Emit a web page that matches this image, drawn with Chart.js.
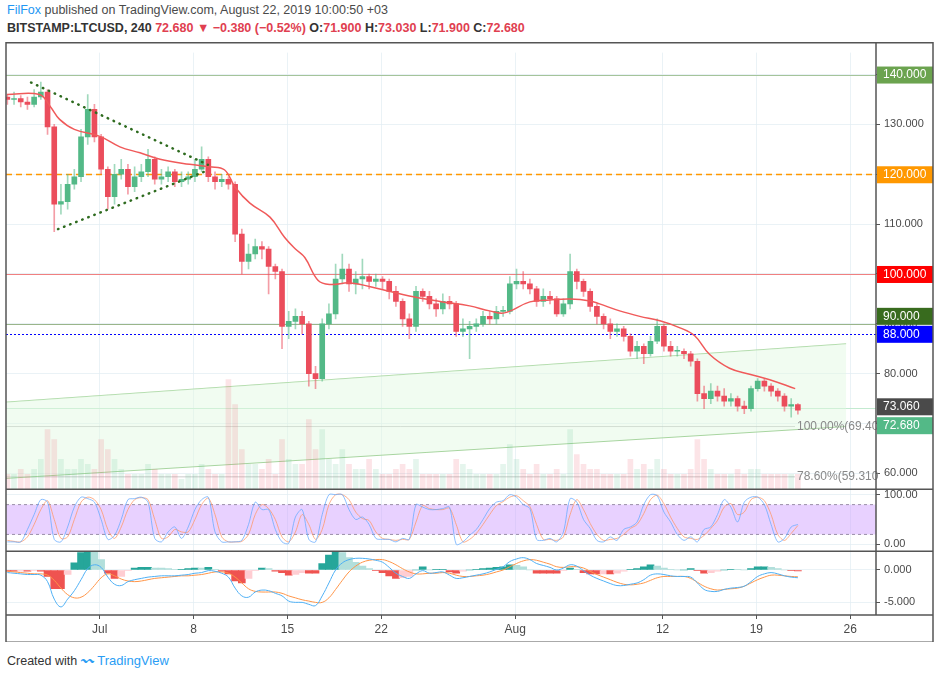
<!DOCTYPE html>
<html>
<head>
<meta charset="utf-8">
<script src="https://cdn.jsdelivr.net/npm/chart.js@4.4.1/dist/chart.umd.min.js"></script>
<style>
	body { margin: 0; background: #fff; font-family: "Liberation Sans", Arial, sans-serif; }
	#wrap { position: relative; width: 939px; height: 675px; overflow: hidden; }
	#hd1 { position: absolute; left: 7px; top: 3px; font-size: 12.5px; color: #4a4a4a; }
	#hd1 .who { color: #2196f3; }
	#hd2 { position: absolute; left: 7px; top: 21px; font-size: 12.5px; color: #333; font-weight: bold; }
	#hd2 .dn { color: #e04050; }
	#ft { position: absolute; left: 7px; top: 650px; font-size: 12.5px; color: #333; }
	#ft .tv { color: #2a9df4; font-size: 13px; }
	canvas { position: absolute; left: 0; top: 42px; }
</style>
</head>
<body>
<div id="wrap">
	<div id="hd1"><span class="who">FilFox</span> published on TradingView.com, August 22, 2019 10:00:50 +03</div>
	<div id="hd2">BITSTAMP:LTCUSD, 240 <span class="dn">72.680 ▼ −0.380 (−0.52%)</span> O:<span class="dn">71.900</span> H:<span class="dn">73.030</span> L:<span class="dn">71.900</span> C:<span class="dn">72.680</span></div>
	<canvas id="c" width="939" height="600"></canvas>
	<div id="ft">Created with <span class="tv">〰 TradingView</span></div>
</div>
<script>
// time axis: days since Jun 24, one candle = 12h
var tickDays = [7, 14, 21, 28, 38, 49, 56, 63];
var tickLabels = ['Jul', '8', '15', '22', 'Aug', '12', '19', '26'];
var priceTicks = [60, 70, 80, 90, 100, 110, 120, 130, 140];

var closes = [135,135.2,134.5,134,135.5,136.5,129.5,114,114.5,118,
	119.5,127.5,133,127.5,121,115.5,120,121,117.5,119.5,
	120.5,123,119,119.5,120.5,118.5,119,119.5,121,123,
	119.5,118.5,119,118,108,102.5,104,105.5,105,101.5,
	100.5,89.5,90.5,91.5,90,80,79,90,92,99,
	101,98,99,99.5,98.5,99,98.5,96.5,94.5,91,
	89.5,96.5,95.5,94,93,94.5,94,88.5,89,89.5,
	90,91.5,91,92.5,92.5,98,98.5,98,97,94.5,
	95.5,95,92,94,100.5,98.5,96.5,93.5,91.5,90,
	88.5,89,87.5,84.5,85.5,84,86.5,89.5,85.5,84.5,
	84.5,84,82.5,76,75,76.5,75.5,74.5,75,73.5,
	73,77,78.5,77.5,76.5,75.5,73.5,73.8,72.68];
var highs = [136,136.5,135.8,135.5,137,138.5,137,130,118,120,
	121,129,136,134,128,121.5,122,123,122,121.5,
	122,125,123.5,121,121.5,121,120.5,120.5,123,125.5,
	123.5,120.5,120,119.5,118.5,109,106,107,106.5,105.5,
	102,101,92.5,93,92.5,90.5,81.5,91,94,102,
	104,102,100.5,103,100,100,99.5,99,97.5,95,
	92,97.5,97,96.5,95,96,95.5,94.5,91,90.5,
	91,92.5,92.5,93.5,93.5,99.5,101,100.5,99,97.5,
	97,96.5,95.5,95,104,101,99,97,94,92,
	91,90,89.5,88,86.5,86,87.5,91,90,86.5,
	85.5,85,84.5,83,77.5,78,77.5,77,76,75.5,
	74.5,77.5,79,79,78,77,76,75,74];
var lows = [134,134,133.5,133,133.5,135,128,108.5,112,113,
	117,118.5,126,126.5,120,113,114,119,116,116.5,
	118.5,119.5,118,118,118.5,117.5,117.5,118,118.5,120.5,
	118.5,117,117.5,117,106.5,100,101,103,103,96,
	99,85,87,89,88,77.5,77,78.5,89,91,
	98,96.5,96,97,97,97.5,97,95,93.5,89.5,
	87,88.5,94.5,93,91.5,92,93,87.5,87.5,83,
	88.5,89.5,90,90,91.5,92,97,97,96,93.5,
	93.5,94,91.5,91.5,93,97,95.5,92.5,90,89,
	87,87.5,86.5,83.5,83,82,83.5,86,84.5,83.5,
	83.5,83,81.5,74.5,73,74,74.5,73.5,73.5,72.5,
	72,72.5,76.5,76.5,75.5,74.5,72.5,71.3,71.9];
var volumes = [3,3,4,3,4,6,12,10,6,4,
	4,6,5,4,10,8,6,4,3,3,
	3,5,4,3,3,3,2,3,3,5,
	4,3,3,22,17,8,5,5,4,6,
	3,10,6,5,5,14,8,12,6,5,
	8,5,4,4,6,4,3,3,4,5,
	4,6,3,3,3,3,3,6,5,4,
	3,3,3,3,5,9,6,4,3,5,
	3,3,4,3,12,7,5,4,4,3,
	3,3,3,6,4,5,4,6,4,3,
	3,3,4,10,6,4,3,3,3,4,
	3,4,4,3,3,3,3,3,3];

var maDays = [0.07,2.5,3.3,4.0,5.1,7.0,8.5,10,11.5,13.7,15.2,16.3,17.1,18.2,19.7,20.8,21.6,22.3,23.3,24.2,25.7,27.9,30.1,32.4,34.6,36.1,37.2,39.1,40.6,42.1,43.6,44.3,45.8,47.3,48.8,50.3,51.4,52.5,54,55.5,57,58.9];
var maValues = [136,136,133.6,131,129,127.6,125.5,124.3,123,122,121.5,120.9,117.4,114.2,111.4,107.3,105,103.3,98.7,97.9,98.2,97,95.6,94.5,93.6,92.6,92.2,94.4,94.8,95,94.6,94,92.6,91.5,90.6,89.2,87.6,83.9,81.1,79.9,78.8,77];

var triTop = [[1.87, 138.4], [15.07, 121.9]];
var triBottom = [[3.88, 109], [15.07, 120.8]];
var channelUpper = [[0, 74.3], [62.7, 86]];
var channelLower = [[0, 59], [62.7, 69.4]];

var stochK = [5,5,5,30,60,90,85,10,5,35,
	75,95,92,85,50,10,18,50,90,92,
	95,85,12,5,25,35,12,35,70,90,
	95,25,5,5,5,8,40,85,70,70,
	30,5,2,55,70,10,5,60,100,100,
	100,70,50,55,40,12,10,10,5,12,
	10,80,75,70,70,72,75,0,5,18,
	30,50,72,85,88,100,95,80,72,10,
	8,12,5,25,92,85,50,32,8,5,
	15,8,30,35,45,80,100,98,65,45,
	20,8,15,5,30,35,60,90,75,45,
	85,95,95,80,40,5,12,35,40];
var stochD = [8,6,5,15,40,70,88,50,12,15,
	50,85,95,90,70,30,12,35,70,90,
	94,90,50,12,15,30,25,25,50,80,
	93,60,15,5,5,6,20,60,80,72,
	50,15,5,25,60,40,10,30,80,100,
	100,90,65,52,48,25,12,10,8,10,
	10,45,78,72,70,70,73,40,5,10,
	22,40,60,78,86,95,98,88,76,40,
	10,10,8,15,60,90,70,42,20,8,
	10,12,20,32,40,62,90,99,82,55,
	32,15,12,10,18,32,48,75,82,60,
	65,90,95,88,60,20,8,22,38];
var stochBand = [20, 80];

var macd = [-0.4,-0.5,-0.6,-0.7,-0.7,-0.8,-1.8,-4.5,-5.7,-4.5,
	-3.2,-1.5,0.2,0.8,0.4,-1.1,-2.2,-2.4,-1.8,-1.5,
	-1.3,-1.1,-1.0,-0.9,-0.9,-0.9,-0.8,-0.7,-0.5,-0.4,
	-0.1,-0.2,-0.5,-1.1,-2.8,-4.0,-4.2,-3.4,-3.1,-3.2,
	-3.6,-4.0,-4.8,-5.0,-5.0,-5.3,-5.5,-4.0,-2.0,0.0,
	1.1,1.6,1.8,1.8,1.7,1.5,1.2,0.4,-0.5,-1.0,
	-1.3,-0.6,-0.1,-0.5,-0.4,-0.3,-0.8,-1.3,-1.2,-1.0,
	-0.8,-0.6,-0.3,0.1,0.5,1.3,1.7,1.9,1.6,1.0,
	0.7,0.4,0.0,0.3,0.8,0.6,-0.1,-0.8,-1.3,-1.7,
	-2.1,-2.4,-2.4,-2.2,-2.0,-1.5,-0.8,-0.6,-0.7,-0.9,
	-1.0,-1.0,-1.1,-2.0,-3.0,-3.3,-3.3,-3.0,-2.8,-2.7,
	-2.5,-1.8,-1.0,-0.6,-0.4,-0.6,-0.9,-1.1,-1.2];
var signal = [-0.2,-0.3,-0.4,-0.5,-0.6,-0.6,-0.8,-1.6,-2.8,-3.8,
	-4.3,-4.2,-3.5,-2.4,-1.2,-0.6,-0.9,-1.4,-1.7,-1.8,
	-1.7,-1.5,-1.3,-1.2,-1.1,-1.0,-0.9,-0.9,-0.8,-0.7,
	-0.5,-0.3,-0.3,-0.5,-1.1,-2.0,-2.9,-3.3,-3.4,-3.4,
	-3.4,-3.6,-4.0,-4.3,-4.6,-4.8,-5.0,-5.0,-4.3,-3.0,
	-1.6,-0.3,0.6,1.2,1.5,1.6,1.6,1.3,0.8,0.2,
	-0.3,-0.6,-0.6,-0.5,-0.5,-0.4,-0.5,-0.8,-1.0,-1.0,
	-0.9,-0.8,-0.6,-0.3,0.0,0.5,1.0,1.4,1.6,1.5,
	1.2,0.9,0.5,0.4,0.5,0.5,0.3,-0.2,-0.7,-1.1,
	-1.5,-1.9,-2.2,-2.3,-2.2,-2.0,-1.6,-1.2,-1.0,-1.0,
	-1.0,-1.0,-1.3,-1.9,-2.5,-2.9,-3.1,-3.0,-2.9,-2.8,
	-2.5,-2.0,-1.5,-1.1,-0.8,-0.8,-0.9,-1.0,-1.05];

// price levels drawn across the pane, with their tags on the axis (shift = tag nudge in px)
var levels = [
	{ v: 140, line: '#a5c49a', tag: '#6ba34f', dash: [], shift: 0 },
	{ v: 120, line: '#ff9800', tag: '#ff9800', dash: [6, 4], shift: 0 },
	{ v: 100, line: '#f08080', tag: '#ff0000', dash: [], shift: 0 },
	{ v: 90, line: '#9ab58a', tag: '#386b1e', dash: [], shift: -8 },
	{ v: 88, line: '#0000ff', tag: '#0000ff', dash: [2, 2], shift: 0 },
	{ v: 73.06, line: '#c3ead0', tag: '#4a4a4a', dash: [], shift: -2 },
	{ v: 72.68, line: null, tag: '#53b987', dash: [], shift: 15 }
];
var fibLevels = [{ v: 69.4, text: '100.00%(69.40' }, { v: 59.31, text: '78.60%(59.310' }];

var UP = '#53b987', DOWN = '#eb4d5c';
var opens = [135.5].concat(closes.slice(0, -1));
var dayOf = function (i) { return i * 0.5 + 0.1; };

var bodies = [], wicks = [], vols = [], candleCol = [], wickCol = [], volCol = [];
closes.forEach(function (c, i) {
	var up = c >= opens[i];
	bodies.push({ x: dayOf(i), y: [opens[i], c] });
	wicks.push({ x: dayOf(i), y: [lows[i], highs[i]] });
	vols.push({ x: dayOf(i), y: [56.8, 56.8 + volumes[i]] });
	candleCol.push(up ? UP : DOWN);
	wickCol.push(up ? 'rgba(83,185,135,0.55)' : 'rgba(235,77,92,0.55)');
	volCol.push(up ? 'rgba(83,185,135,0.15)' : 'rgba(235,77,92,0.15)');
});
var kPts = stochK.map(function (v, i) { return { x: dayOf(i), y: v }; });
var dPts = stochD.map(function (v, i) { return { x: dayOf(i), y: v }; });
var macdPts = macd.map(function (v, i) { return { x: dayOf(i), y: v }; });
var sigPts = signal.map(function (v, i) { return { x: dayOf(i), y: v }; });
// histogram is MACD minus signal, coloured by rising / falling
var histPts = [], histCol = [];
macd.forEach(function (v, i) {
	var h = v - signal[i];
	var prev = i > 0 ? macd[i - 1] - signal[i - 1] : 0;
	histPts.push({ x: dayOf(i), y: [0, h] });
	if (h >= 0) histCol.push(h >= prev ? '#26a69a' : '#b2dfdb');
	else histCol.push(h <= prev ? '#ef5350' : '#ffcdd2');
});
var pts = function (arr) { return arr.map(function (p) { return { x: p[0], y: p[1] }; }); };

var overlay = {
	id: 'overlay',
	beforeDatasetsDraw: function (chart) {
		var ctx = chart.ctx, ca = chart.chartArea, y = chart.scales.y, st = chart.scales.yStoch;
		ctx.save();
		var b1 = st.getPixelForValue(stochBand[1]), b0 = st.getPixelForValue(stochBand[0]);
		ctx.fillStyle = 'rgba(204,153,255,0.45)';
		ctx.fillRect(ca.left, b1, ca.right - ca.left, b0 - b1);
		ctx.strokeStyle = '#9a8fa8'; ctx.lineWidth = 1; ctx.setLineDash([3, 3]);
		[b0, b1].forEach(function (p) { ctx.beginPath(); ctx.moveTo(ca.left, p); ctx.lineTo(ca.right, p); ctx.stroke(); });
		ctx.setLineDash([]);
		ctx.strokeStyle = 'rgba(150,150,150,0.5)';
		fibLevels.forEach(function (f) {
			var p = y.getPixelForValue(f.v);
			ctx.beginPath(); ctx.moveTo(ca.left, p); ctx.lineTo(795, p); ctx.stroke();
		});
		levels.forEach(function (l) {
			if (!l.line) return;
			var p = Math.round(y.getPixelForValue(l.v)) + 0.5;
			ctx.strokeStyle = l.line; ctx.lineWidth = l.v === 120 ? 1.5 : 1; ctx.setLineDash(l.dash);
			ctx.beginPath(); ctx.moveTo(ca.left, p); ctx.lineTo(ca.right, p); ctx.stroke();
		});
		ctx.restore();
	},
	afterDraw: function (chart) {
		var ctx = chart.ctx, ca = chart.chartArea, y = chart.scales.y, st = chart.scales.yStoch;
		ctx.save();
		ctx.font = '12px "Liberation Sans", Arial, sans-serif';
		ctx.textBaseline = 'middle';
		fibLevels.forEach(function (f) {
			ctx.fillStyle = '#888';
			ctx.fillText(f.text, 797, y.getPixelForValue(f.v));
		});
		levels.forEach(function (l) {
			var p = y.getPixelForValue(l.v) + l.shift;
			ctx.fillStyle = l.tag;
			ctx.fillRect(ca.right + 1, p - 8, 56, 17);
			ctx.fillStyle = '#fff';
			ctx.fillText(l.v.toFixed(3), ca.right + 7, p + 0.5);
		});
		ctx.strokeStyle = '#555'; ctx.lineWidth = 1.5;
		[y.bottom, st.bottom].forEach(function (p) {
			ctx.beginPath(); ctx.moveTo(ca.left, p); ctx.lineTo(933, p); ctx.stroke();
		});
		ctx.strokeRect(ca.left, 0.75, 933 - ca.left, 599.5);
		ctx.beginPath(); ctx.moveTo(ca.left, ca.bottom); ctx.lineTo(933, ca.bottom); ctx.stroke();
		ctx.beginPath(); ctx.moveTo(ca.right, 0); ctx.lineTo(ca.right, ca.bottom); ctx.stroke();
		ctx.restore();
	}
};

var gridCol = 'rgba(225,236,242,0.7)';
var tickFont = { family: '"Liberation Sans", Arial, sans-serif', size: 11 };
function rightAxis(extra) {
	var base = {
		position: 'right', stack: 'panes', offset: false,
		border: { display: false },
		grid: { color: gridCol, drawTicks: true, tickLength: 4, tickColor: '#555' },
		afterFit: function (s) { s.width = 57; }
	};
	return Object.assign(base, extra);
}

new Chart(document.getElementById('c'), {
	data: {
		datasets: [
			{ type: 'line', data: pts(channelUpper), borderColor: '#a8d5a0', borderWidth: 1, pointRadius: 0, fill: false, yAxisID: 'y', order: 20 },
			{ type: 'line', data: pts(channelLower), borderColor: '#a8d5a0', borderWidth: 1, pointRadius: 0, fill: '-1', backgroundColor: 'rgba(225,248,225,0.45)', yAxisID: 'y', order: 19 },
			{ type: 'bar', data: vols, backgroundColor: volCol, barThickness: 5, grouped: false, yAxisID: 'y', order: 15 },
			{ type: 'bar', data: wicks, backgroundColor: wickCol, barThickness: 1, grouped: false, yAxisID: 'y', order: 6 },
			{ type: 'bar', data: bodies, backgroundColor: candleCol, barThickness: 5, grouped: false, minBarLength: 1, yAxisID: 'y', order: 5 },
			{ type: 'line', data: maDays.map(function (d, i) { return { x: d, y: maValues[i] }; }), borderColor: '#f05a5a', borderWidth: 1.5, pointRadius: 0, tension: 0.4, yAxisID: 'y', order: 2 },
			{ type: 'line', data: pts(triTop), borderColor: '#2e6b1f', borderWidth: 2.5, borderDash: [0.5, 6], borderCapStyle: 'round', pointRadius: 0, yAxisID: 'y', order: 1 },
			{ type: 'line', data: pts(triBottom), borderColor: '#2e6b1f', borderWidth: 2.5, borderDash: [0.5, 6], borderCapStyle: 'round', pointRadius: 0, yAxisID: 'y', order: 1 },
			{ type: 'line', data: dPts, borderColor: 'rgba(255,150,100,0.75)', borderWidth: 1, pointRadius: 0, tension: 0.3, yAxisID: 'yStoch', order: 2 },
			{ type: 'line', data: kPts, borderColor: 'rgba(100,170,255,0.75)', borderWidth: 1, pointRadius: 0, tension: 0.3, yAxisID: 'yStoch', order: 1 },
			{ type: 'bar', data: histPts, backgroundColor: histCol, barThickness: 7, grouped: false, yAxisID: 'yMacd', order: 5 },
			{ type: 'line', data: sigPts, borderColor: '#ff9548', borderWidth: 1, pointRadius: 0, tension: 0.4, yAxisID: 'yMacd', order: 2 },
			{ type: 'line', data: macdPts, borderColor: '#4fb0f5', borderWidth: 1, pointRadius: 0, tension: 0.4, yAxisID: 'yMacd', order: 1 }
		]
	},
	options: {
		responsive: false, animation: false,
		layout: { padding: { left: 6, right: 6, top: 0, bottom: 0 } },
		plugins: { legend: { display: false }, tooltip: { enabled: false } },
		scales: {
			x: {
				type: 'linear', min: 0, max: 64.93, offset: false,
				border: { display: false },
				grid: { color: gridCol, drawTicks: true, tickLength: 4, tickColor: '#555', offset: false },
				ticks: { color: '#4a4a4a', font: { family: tickFont.family, size: 12 }, padding: 3, callback: function (v) { var k = tickDays.indexOf(v); return k < 0 ? '' : tickLabels[k]; } },
				afterBuildTicks: function (s) { s.ticks = tickDays.map(function (d) { return { value: d }; }); },
				afterFit: function (s) { s.height = 27; }
			},
			y: rightAxis({
				min: 56.8, max: 144.4, stackWeight: 445,
				afterBuildTicks: function (s) { s.ticks = priceTicks.map(function (v) { return { value: v }; }); },
				ticks: { color: '#4a4a4a', font: tickFont, padding: 4, callback: function (v) { return v.toFixed(3); } }
			}),
			yStoch: rightAxis({
				min: -13.8, max: 110.7, stackWeight: 63,
				afterBuildTicks: function (s) { s.ticks = [{ value: 0 }, { value: 100 }]; },
				ticks: { color: '#4a4a4a', font: tickFont, padding: 4, callback: function (v) { return v.toFixed(2); } }
			}),
			yMacd: rightAxis({
				min: -6.95, max: 2.9, stackWeight: 65,
				afterBuildTicks: function (s) { s.ticks = [{ value: -5 }, { value: 0 }]; },
				ticks: { color: '#4a4a4a', font: tickFont, padding: 4, callback: function (v) { return v.toFixed(3); } }
			})
		}
	},
	plugins: [overlay]
});
</script>
</body>
</html>
